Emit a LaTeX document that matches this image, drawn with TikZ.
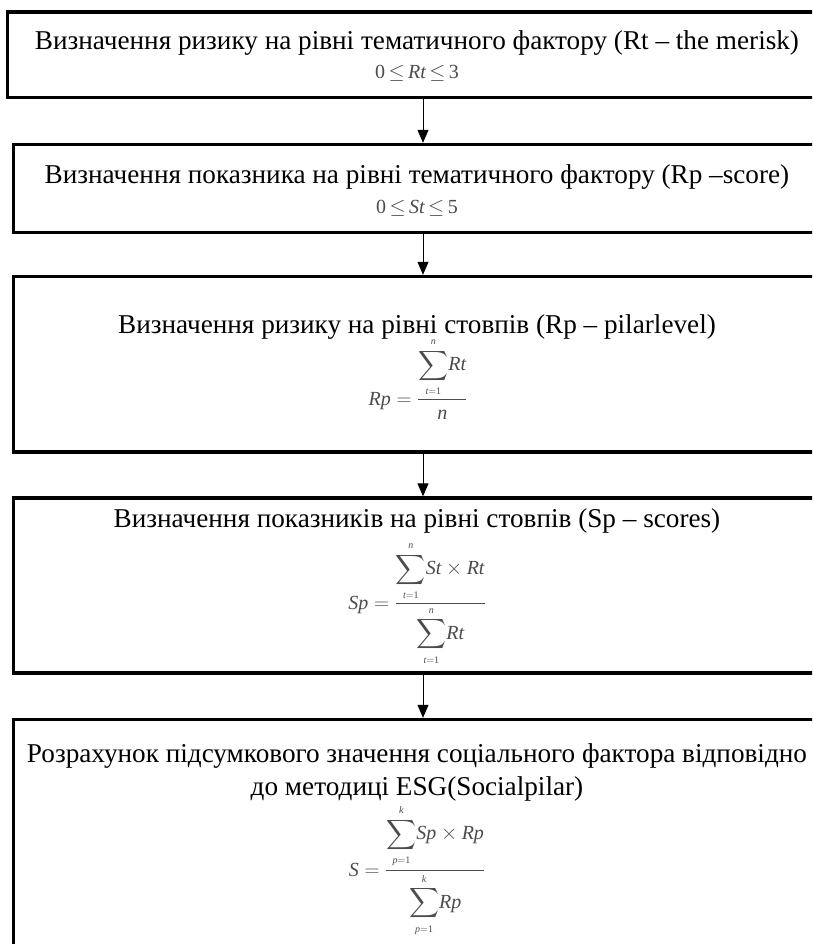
\documentclass[tikz,border=0pt]{standalone}
\usepackage{amsmath}
\usepackage{fontspec}
\setmainfont{Liberation Serif}
\usetikzlibrary{arrows.meta}
\newcommand{\vi}[1]{\textit{#1}}
\newcommand{\vu}[1]{\textup{#1}}
\newcommand{\lsum}[2]{\displaystyle\sum\limits_{\scriptscriptstyle #1}^{\scriptscriptstyle #2}\!}
\newcommand{\tle}{\mskip3mu{\le}\mskip3mu}
\tikzset{
  box/.style={draw=black, line width=3.4pt, inner sep=0pt, minimum width=819pt},
  lbl/.style={inner sep=0pt, font=\fontsize{27.2}{33}\selectfont, align=center},
  frm/.style={inner sep=0pt, text=black!70, font=\fontsize{20}{24}\selectfont},
  arr/.style={line width=1pt, -{Triangle[width=11pt,length=13pt]}}
}
\begin{document}
\begin{tikzpicture}[x=1pt,y=-1pt]
\useasboundingbox (0,0) rectangle (812,944);
\clip (0,0) rectangle (812,944);
\fill[white] (0,0) rectangle (812,944);
% boxes
\node[box, minimum width=831pt, minimum height=85.5pt] (b1) at (423,54.75) {};
\node[box, minimum height=88pt] (b2) at (423,188.5) {};
\node[box, minimum height=175.5pt] (b3) at (423,364.25) {};
\node[box, minimum height=175pt] (b4) at (423,585.5) {};
\node[box, minimum height=280pt] (b5) at (423,859.5) {};
% texts
\node[lbl] (t1) at (417,43) {Визначення ризику на рівні тематичного фактору (Rt – the merisk)};
\node[frm] (f1) at (417,73) {$\vu{0}\tle \vi{Rt}\tle \vu{3}$};
\node[lbl] (t2) at (417,177) {Визначення показника на рівні тематичного фактору (Rp –score)};
\node[frm] (f2) at (417,208) {$\vu{0}\tle \vi{St}\tle \vu{5}$};
\node[lbl] (t3) at (417,327) {Визначення ризику на рівні стовпів (Rp – pilarlevel)};
\node[frm, anchor=base] (f3) at (418,405) {$\vi{Rp}=\dfrac{\lsum{\vi{t}=\vu{1}}{\vi{n}}\vi{Rt}}{\vi{n}}$};
\node[lbl] (t4) at (417,521) {Визначення показників на рівні стовпів (Sp – scores)};
\node[frm, anchor=base] (f4) at (417,609) {$\vi{Sp}=\dfrac{\lsum{\vi{t}=\vu{1}}{\vi{n}}\vi{St}\times \vi{Rt}}{\lsum{\vi{t}=\vu{1}}{\vi{n}}\vi{Rt}}$};
\node[lbl] (t5) at (417,772) {Розрахунок підсумкового значення соціального фактора відповідно\\до методиці ESG(Socialpilar)};
\node[frm, anchor=base] (f5) at (417,876) {$\vi{S}=\dfrac{\lsum{\vi{p}=\vu{1}}{\vi{k}}\vi{Sp}\times \vi{Rp}}{\lsum{\vi{p}=\vu{1}}{\vi{k}}\vi{Rp}}$};
% arrows
\draw[arr] (b1.south) -- (b2.north);
\draw[arr] (b2.south) -- (b3.north);
\draw[arr] (b3.south) -- (b4.north);
\draw[arr] (b4.south) -- (b5.north);
\end{tikzpicture}
\end{document}
